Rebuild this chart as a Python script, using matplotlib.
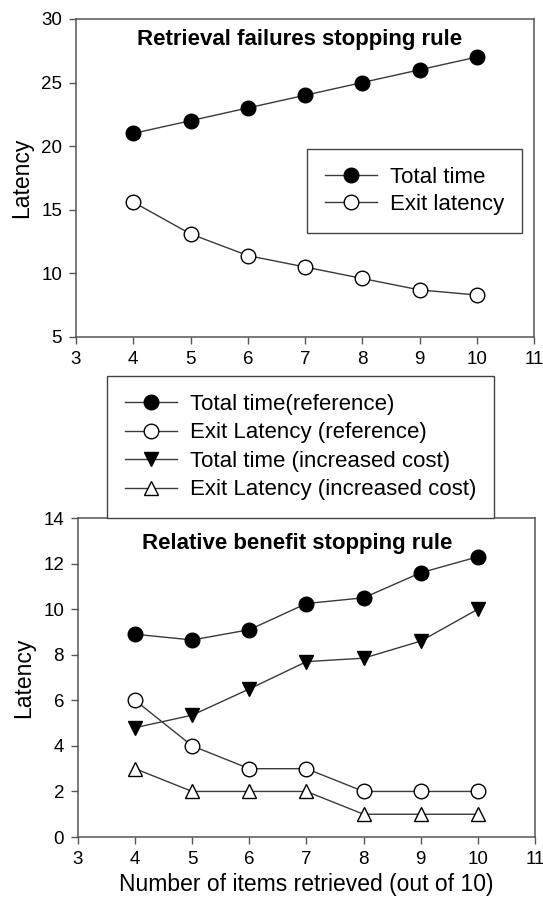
import numpy as np
import matplotlib.pyplot as plt
from matplotlib.lines import Line2D

plt.rcParams['font.family'] = ['Liberation Sans', 'DejaVu Sans']

# data
items = [4, 5, 6, 7, 8, 9, 10]

# top panel: retrieval failures stopping rule
total_time = [21, 22, 23, 24, 25, 26, 27]
exit_latency = [15.6, 13.1, 11.4, 10.5, 9.6, 8.7, 8.3]

# bottom panel: relative benefit stopping rule
total_ref = [8.9, 8.65, 9.1, 10.25, 10.5, 11.6, 12.3]
exit_ref = [6, 4, 3, 3, 2, 2, 2]
total_cost = [4.8, 5.35, 6.5, 7.7, 7.85, 8.6, 10.0]
exit_cost = [3, 2, 2, 2, 1, 1, 1]

line_kw = dict(color='#3a3a3a', lw=1.0, markeredgecolor='black', markeredgewidth=1.0, markersize=10.5)
leg_kw = dict(fontsize=16, fancybox=False, edgecolor='#444444', framealpha=1, borderaxespad=0,
              handlelength=2.35, handletextpad=0.6, borderpad=0.8)

fig = plt.figure(figsize=(5.43, 9.01), dpi=100)
ax1 = fig.add_axes([0.140, 0.626, 0.8435, 0.353])
ax2 = fig.add_axes([0.1436, 0.071, 0.8416, 0.354])

def style(ax, ylim, yticks):
    ax.set_xlim(3, 11)
    ax.set_xticks(range(3, 12))
    ax.set_ylim(*ylim)
    ax.set_yticks(yticks)
    ax.tick_params(direction='out', length=5, width=1, labelsize=13.5, pad=5, color='#555555')
    for s in ax.spines.values():
        s.set_linewidth(1.1)
        s.set_color('#555555')
    ax.set_ylabel('Latency', fontsize=16.5, labelpad=6)

# top
ax1.plot(items, total_time, marker='o', markerfacecolor='black', label='Total time', **line_kw)
ax1.plot(items, exit_latency, marker='o', markerfacecolor='white', label='Exit latency', **line_kw)
style(ax1, (5, 30), range(5, 31, 5))
ax1.text(0.487, 0.918, 'Retrieval failures stopping rule', transform=ax1.transAxes,
         ha='center', va='baseline', fontsize=16, fontweight='bold')
leg1 = ax1.legend(loc='upper left', bbox_to_anchor=(0.504, 0.591), labelspacing=0.29, **leg_kw)
leg1.get_frame().set_linewidth(1.0)

# bottom
ax2.plot(items, total_ref, marker='o', markerfacecolor='black', **line_kw)
ax2.plot(items, exit_ref, marker='o', markerfacecolor='white', **line_kw)
ax2.plot(items, total_cost, marker='v', markerfacecolor='black', **line_kw)
ax2.plot(items, exit_cost, marker='^', markerfacecolor='white', **line_kw)
style(ax2, (0, 14), range(0, 15, 2))
ax2.text(0.479, 0.903, 'Relative benefit stopping rule', transform=ax2.transAxes,
         ha='center', va='baseline', fontsize=16, fontweight='bold')
ax2.set_xlabel('Number of items retrieved (out of 10)', fontsize=16.5, labelpad=4)

names = ['Total time(reference)', 'Exit Latency (reference)',
         'Total time (increased cost)', 'Exit Latency (increased cost)']
markers = ['o', 'o', 'v', '^']
faces = ['black', 'white', 'black', 'white']
handles = [Line2D([], [], marker=m, markerfacecolor=f, **line_kw) for m, f in zip(markers, faces)]
leg2 = fig.legend(handles, names, loc='upper left', bbox_to_anchor=(0.197, 0.5827),
                  labelspacing=0.34, **leg_kw)
leg2.get_frame().set_linewidth(1.0)

fig.savefig('out.png', dpi=100)
